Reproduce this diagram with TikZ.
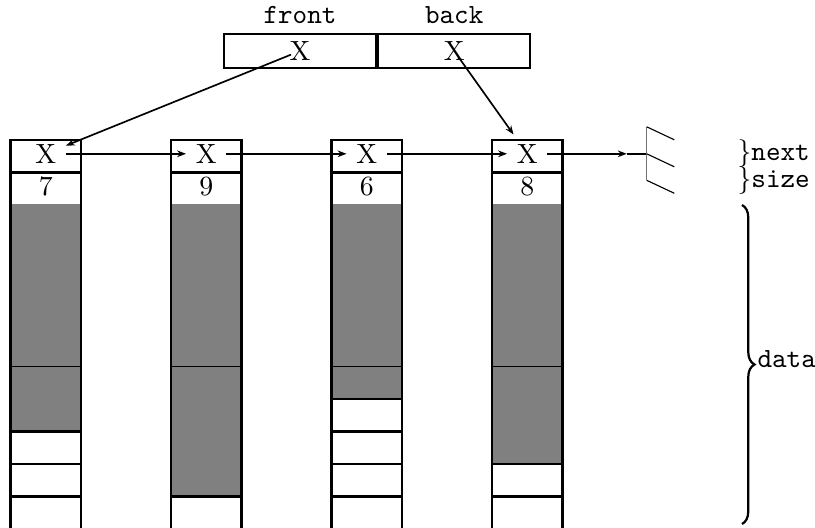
\documentclass[tikz,border=0pt]{standalone}
\usepackage{tikz}
\usetikzlibrary{
  arrows.meta,
  positioning,
  decorations.pathreplacing
}

\begin{document}
\begin{tikzpicture}[
  x=0.36pt, y=-0.36pt,
  every node/.style={font=\normalsize},
  cell/.style={
    rectangle, draw, thick,
    minimum width=25.38pt, minimum height=11.66pt,
    inner sep=0pt, outer sep=0pt
  },
  ptrbox/.style={
    rectangle, draw, thick,
    minimum width=54.7pt, minimum height=12pt,
    inner sep=0pt
  },
  fieldname/.style={font=\ttfamily},
  bracelbl/.style={anchor=west, inner sep=0pt, font=\ttfamily},
  bigbrace/.style={decorate, decoration={brace, amplitude=4.5pt}, thick},
  arr/.style={-{Stealth[length=3.2pt,width=2.4pt]}, semithick},
  nilline/.style={thin}
]
  \useasboundingbox (0,0) rectangle (815,527);

  % Blocks
  \foreach \s [count=\k] in {7,9,6,8} {
    \pgfmathsetmacro\L{10.5+160.5*(\k-1)}
    \node[cell] (next\k) at (\L+35.25,156.2) {};
    \node[cell, below=0pt of next\k] (size\k) {};
    \fill[gray] (\L,203.7) rectangle (\L+70.5,204.8+\s*32.4);
    \draw (\L,366.8) -- ++(70.5,0);
    \foreach \r in {\s,...,9}
      \draw[thick] (\L,204.8+\r*32.4) -- ++(70.5,0);
    \draw[thick] (\L,140) rectangle ++(70.5,388.8);
    \node (x\k) at (\L+35.25,153.8) {X};
    \node (n\k) at (\L+35.25,186.8) {\s};
  }

  % Next pointers
  \foreach \from/\to in {x1/x2, x2/x3, x3/x4} {
    \draw[arr] (\from) -- (\to);
  }

  % Front and back
  \node[ptrbox] (front) at (300,51) {X};
  \node[ptrbox, right=0pt of front] (back) {X};
  \node[fieldname, above=0pt of front] (frontlbl) {front};
  \node[fieldname, above=0pt of back] (backlbl) {back};
  \draw[arr, shorten <=3.5pt] (front.center) -- (x1);
  \draw[arr, shorten <=3.5pt] (back.center) -- (x4);

  % Null
  \coordinate (nil) at (646.7,153.8);
  \coordinate (niltip) at (626.7,153.8);
  \draw[arr] (x4) -- (niltip);
  \draw[semithick] (niltip) -- (nil);
  \draw[nilline, black!55] (nil) ++(0,-27) -- ++(0,53.5);
  \foreach \dy in {-27,0,26.5}
    \draw[nilline] (nil) ++(0,\dy) -- ++(27.6,13);

  % Field braces
  \node[bracelbl] (nextlbl) at (737,153.5) {$\}$next};
  \node[bracelbl] (sizelbl) at (737,181) {$\}$size};
  \coordinate (datatop) at (742,205);
  \coordinate (databot) at (742,524);
  \draw[bigbrace] (datatop) -- (databot);
  \node[bracelbl] (datalbl) at (757,359) {data};
\end{tikzpicture}
\end{document}
